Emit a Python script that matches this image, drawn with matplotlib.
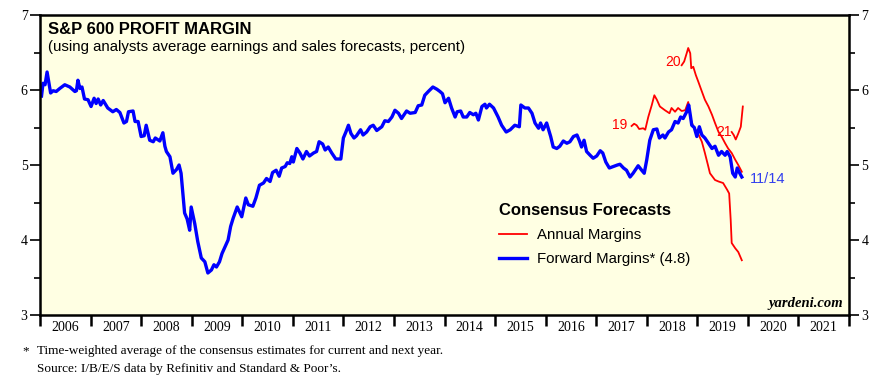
import numpy as np
import matplotlib.pyplot as plt
from matplotlib.lines import Line2D

# forward margins (weekly-ish), x in fractional years
fwd_x = [2006.03, 2006.06, 2006.10, 2006.14, 2006.21, 2006.26, 2006.32, 2006.39, 2006.49, 2006.59,
         2006.69, 2006.72, 2006.75, 2006.79, 2006.83, 2006.88, 2006.95, 2007.01, 2007.07, 2007.11,
         2007.15, 2007.20, 2007.25, 2007.34, 2007.44, 2007.51, 2007.58, 2007.66, 2007.71, 2007.75,
         2007.84, 2007.88, 2007.94, 2008.00, 2008.06, 2008.10, 2008.17, 2008.24, 2008.28, 2008.37,
         2008.43, 2008.47, 2008.50, 2008.57, 2008.63, 2008.70, 2008.75, 2008.79, 2008.86, 2008.91,
         2008.96, 2008.99, 2009.06, 2009.12, 2009.19, 2009.26, 2009.32, 2009.39, 2009.44, 2009.49,
         2009.55, 2009.60, 2009.66, 2009.72, 2009.77, 2009.82, 2009.90, 2009.99, 2010.07, 2010.12,
         2010.21, 2010.27, 2010.34, 2010.42, 2010.48, 2010.55, 2010.60, 2010.67, 2010.73, 2010.78,
         2010.85, 2010.89, 2010.94, 2010.98, 2011.01, 2011.08, 2011.14, 2011.20, 2011.27, 2011.33,
         2011.41, 2011.47, 2011.52, 2011.59, 2011.64, 2011.70, 2011.77, 2011.85, 2011.95, 2012.00,
         2012.05, 2012.10, 2012.15, 2012.21, 2012.26, 2012.34, 2012.39, 2012.46, 2012.53, 2012.59,
         2012.66, 2012.76, 2012.82, 2012.89, 2012.96, 2013.02, 2013.09, 2013.15, 2013.25, 2013.32,
         2013.42, 2013.48, 2013.55, 2013.61, 2013.68, 2013.77, 2013.85, 2013.91, 2013.96, 2014.01,
         2014.08, 2014.14, 2014.21, 2014.25, 2014.32, 2014.37, 2014.44, 2014.50, 2014.57, 2014.62,
         2014.67, 2014.74, 2014.80, 2014.83, 2014.89, 2014.97, 2015.06, 2015.13, 2015.22, 2015.30,
         2015.39, 2015.48, 2015.51, 2015.59, 2015.66, 2015.73, 2015.79, 2015.86, 2015.90, 2015.95,
         2016.02, 2016.10, 2016.15, 2016.22, 2016.28, 2016.35, 2016.42, 2016.48, 2016.55, 2016.62,
         2016.67, 2016.71, 2016.76, 2016.81, 2016.88, 2016.94, 2017.01, 2017.08, 2017.13, 2017.19,
         2017.26, 2017.34, 2017.42, 2017.47, 2017.54, 2017.60, 2017.67, 2017.73, 2017.83, 2017.90,
         2017.95, 2018.00, 2018.06, 2018.13, 2018.20, 2018.25, 2018.32, 2018.36, 2018.43, 2018.49,
         2018.56, 2018.62, 2018.67, 2018.72, 2018.79, 2018.83, 2018.86, 2018.89, 2018.94, 2018.99,
         2019.04, 2019.09, 2019.15, 2019.22, 2019.29, 2019.35, 2019.42, 2019.48, 2019.55, 2019.59,
         2019.65, 2019.70, 2019.75, 2019.79, 2019.84, 2019.88]
fwd_y = [5.92, 6.09, 6.07, 6.24, 5.96, 5.99, 5.98, 6.02, 6.07, 6.04,
         5.98, 5.99, 6.13, 6.02, 6.04, 5.88, 5.87, 5.78, 5.89, 5.82,
         5.88, 5.80, 5.86, 5.76, 5.71, 5.74, 5.70, 5.56, 5.58, 5.71,
         5.72, 5.58, 5.58, 5.38, 5.39, 5.53, 5.33, 5.31, 5.36, 5.32,
         5.43, 5.25, 5.18, 5.11, 4.89, 4.94, 5.00, 4.89, 4.36, 4.28,
         4.13, 4.44, 4.22, 3.98, 3.76, 3.71, 3.56, 3.60, 3.67, 3.64,
         3.71, 3.82, 3.91, 4.00, 4.18, 4.29, 4.44, 4.31, 4.56, 4.47,
         4.45, 4.56, 4.73, 4.76, 4.82, 4.78, 4.90, 4.93, 4.85, 4.96,
         4.98, 5.03, 5.02, 5.11, 5.04, 5.22, 5.16, 5.08, 5.18, 5.12,
         5.16, 5.18, 5.31, 5.28, 5.20, 5.24, 5.16, 5.08, 5.08, 5.36,
         5.44, 5.53, 5.42, 5.36, 5.39, 5.47, 5.40, 5.44, 5.51, 5.53,
         5.46, 5.51, 5.59, 5.58, 5.64, 5.73, 5.69, 5.62, 5.72, 5.69,
         5.70, 5.79, 5.80, 5.93, 5.98, 6.04, 6.01, 5.98, 5.95, 5.83,
         5.89, 5.76, 5.64, 5.71, 5.72, 5.64, 5.64, 5.70, 5.67, 5.69,
         5.60, 5.78, 5.81, 5.76, 5.81, 5.76, 5.64, 5.53, 5.44, 5.47,
         5.53, 5.51, 5.80, 5.76, 5.76, 5.69, 5.56, 5.49, 5.56, 5.47,
         5.56, 5.38, 5.24, 5.22, 5.25, 5.32, 5.29, 5.31, 5.38, 5.40,
         5.32, 5.24, 5.33, 5.18, 5.13, 5.09, 5.12, 5.19, 5.16, 5.04,
         4.96, 4.98, 5.00, 5.01, 4.96, 4.93, 4.84, 4.89, 4.99, 4.93,
         4.89, 5.07, 5.33, 5.47, 5.48, 5.36, 5.40, 5.36, 5.44, 5.47,
         5.58, 5.56, 5.64, 5.62, 5.71, 5.80, 5.67, 5.53, 5.50, 5.38,
         5.51, 5.40, 5.36, 5.29, 5.22, 5.25, 5.13, 5.18, 5.13, 5.18,
         5.11, 4.89, 4.84, 4.96, 4.89, 4.84]

# annual margin consensus, one series per year
a19_x = [2017.70, 2017.75, 2017.80, 2017.85, 2017.93, 2017.97, 2018.03, 2018.10, 2018.15, 2018.20,
         2018.26, 2018.36, 2018.45, 2018.49, 2018.56, 2018.62, 2018.69, 2018.76, 2018.82, 2018.86,
         2018.92, 2019.00, 2019.09, 2019.15, 2019.21, 2019.25, 2019.35, 2019.42, 2019.51, 2019.59,
         2019.63, 2019.66, 2019.68, 2019.75, 2019.81, 2019.88]
a19_y = [5.52, 5.55, 5.53, 5.48, 5.49, 5.47, 5.64, 5.80, 5.93, 5.87,
         5.78, 5.73, 5.69, 5.76, 5.71, 5.76, 5.72, 5.73, 5.84, 5.64,
         5.51, 5.44, 5.31, 5.16, 5.00, 4.89, 4.80, 4.78, 4.76, 4.67,
         4.62, 4.27, 3.96, 3.89, 3.84, 3.73]
a20_x = [2018.69, 2018.74, 2018.79, 2018.82, 2018.86, 2018.88, 2018.92, 2018.97, 2019.02, 2019.09,
         2019.15, 2019.22, 2019.29, 2019.35, 2019.42, 2019.48, 2019.55, 2019.61, 2019.68, 2019.75,
         2019.81, 2019.88]
a20_y = [6.33, 6.38, 6.49, 6.56, 6.49, 6.29, 6.31, 6.20, 6.11, 5.98,
         5.87, 5.78, 5.67, 5.56, 5.44, 5.38, 5.29, 5.22, 5.16, 5.07,
         5.00, 4.91]
a21_x = [2019.68, 2019.72, 2019.76, 2019.81, 2019.86, 2019.90]
a21_y = [5.44, 5.40, 5.34, 5.42, 5.51, 5.78]

years = list(range(2006, 2022))
red = "#ff0000"
blue = "#0000ff"
serif = "Liberation Serif"
sans = "Liberation Sans"

fig = plt.figure(figsize=(8.92, 3.86), dpi=100)
ax = fig.add_axes([40 / 892, 71 / 386, 809 / 892, 300 / 386])
ax.set_facecolor("#ffffe3")

ax.plot(a19_x, a19_y, color=red, lw=1.3)
ax.plot(a20_x, a20_y, color=red, lw=1.3)
ax.plot(a21_x, a21_y, color=red, lw=1.3)
ax.plot(fwd_x, fwd_y, color=blue, lw=2.4)

ax.set_xlim(2006, 2022)
ax.set_ylim(3, 7)

# y axis both sides
ax.set_yticks([3, 4, 5, 6, 7])
ax.set_yticks(np.arange(3.5, 7, 1), minor=True)
ax.tick_params(axis="y", which="major", direction="out", length=7, width=1.2,
               left=True, right=True, labelleft=True, labelright=True, labelsize=10, pad=2)
ax.tick_params(axis="y", which="minor", direction="out", length=4, width=1.2, left=True, right=True)
for lab in ax.get_yticklabels():
    lab.set_fontfamily(serif)

# x axis: ticks at year boundaries, labels mid-year
ax.set_xticks(years + [2022])
ax.set_xticklabels([])
ax.set_xticks([y + 0.5 for y in years], minor=True)
ax.set_xticklabels([str(y) for y in years], minor=True, fontfamily=serif, fontsize=10)
ax.tick_params(axis="x", which="major", direction="out", length=8, width=1.8)
ax.tick_params(axis="x", which="minor", length=0, pad=4)

for s in ax.spines.values():
    s.set_linewidth(1.8)

ax.text(0.010, 0.95, "S&P 600 PROFIT MARGIN", transform=ax.transAxes, fontfamily=sans,
        fontweight="bold", fontsize=12, va="center", ha="left")
ax.text(0.010, 0.895, "(using analysts average earnings and sales forecasts, percent)",
        transform=ax.transAxes, fontfamily=sans, fontsize=10.8, va="center", ha="left")

# series labels
ax.text(2017.47, 5.53, "19", color=red, fontfamily=sans, fontsize=10, ha="center", va="center")
ax.text(2018.52, 6.37, "20", color=red, fontfamily=sans, fontsize=10, ha="center", va="center")
ax.text(2019.53, 5.44, "21", color=red, fontfamily=sans, fontsize=10, ha="center", va="center")
ax.text(2020.40, 4.81, "11/14", color="#3340ee", fontfamily=sans, fontsize=10.5, ha="center", va="center")

handles = [Line2D([], [], color=red, lw=1.3), Line2D([], [], color=blue, lw=2.4)]
leg = ax.legend(handles, ["Annual Margins", "Forward Margins* (4.8)"],
                title="Consensus Forecasts", loc="upper left", bbox_to_anchor=(0.558, 0.397),
                frameon=False, alignment="left", handlelength=1.9, handletextpad=0.65,
                borderpad=0, labelspacing=0.65,
                prop={"family": sans, "size": 10.8},
                title_fontproperties={"family": sans, "weight": "bold", "size": 12})

ax.text(0.993, 0.04, "yardeni.com", transform=ax.transAxes, fontfamily=serif,
        fontweight="bold", fontstyle="italic", fontsize=10.5, ha="right", va="center")

fig.text(22 / 892, 1 - 351 / 386, "*", fontfamily=serif, fontsize=9.5, va="center")
fig.text(37 / 892, 1 - 351 / 386,
         "Time-weighted average of the consensus estimates for current and next year.",
         fontfamily=serif, fontsize=9.5, va="center")
fig.text(37 / 892, 1 - 369 / 386, "Source: I/B/E/S data by Refinitiv and Standard & Poor\u2019s.",
         fontfamily=serif, fontsize=9.5, va="center")

fig.savefig("out.png", dpi=100)
